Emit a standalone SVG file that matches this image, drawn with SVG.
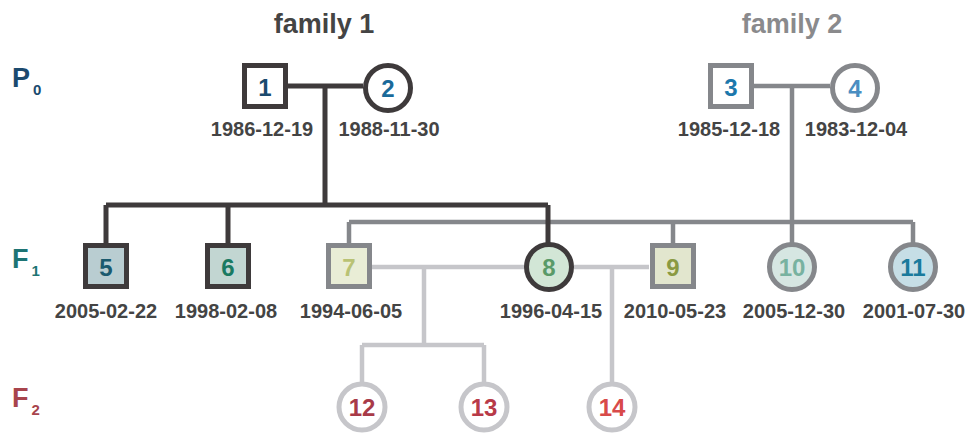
<svg xmlns="http://www.w3.org/2000/svg" width="969" height="434" viewBox="0 0 969 434">
<style>
text{font-family:"Liberation Sans",Arial,sans-serif;font-weight:bold}
.date{font-size:20px;fill:#444;text-anchor:middle}
.num{font-size:24px;text-anchor:middle;dominant-baseline:central}
.f1{stroke:#3e3a3b;stroke-width:5}
.f2{stroke:#85878b;stroke-width:5}
.f3{stroke:#c6c6ca;stroke-width:5}
.l1{fill:none;stroke:#3e3a3b;stroke-width:5}
.l2{fill:none;stroke:#85878b;stroke-width:4.5}
.l3{fill:none;stroke:#c6c6ca;stroke-width:4.5}
.gen{font-size:27px}
.sub{font-size:15px}
</style>
<rect width="969" height="434" fill="#fff"/>
<text x="324" y="33" class="gen" text-anchor="middle" fill="#444">family 1</text>
<text x="792" y="33" class="gen" text-anchor="middle" fill="#8a8a8c">family 2</text>
<g id="gen-labels">
<text x="12" y="87" class="gen" fill="#1b4a6e">P<tspan class="sub" dx="3" dy="8">0</tspan></text>
<text x="12" y="268" class="gen" fill="#1d7474">F<tspan class="sub" dx="3" dy="8">1</tspan></text>
<text x="12" y="407" class="gen" fill="#a8444c">F<tspan class="sub" dx="3" dy="8">2</tspan></text>
</g>
<g id="connectors">
<path class="l3" d="M372 267H525M424 267V345M362 345H484M362 345V383M484 345V383M574 267H649M612 267V383"/>
<path class="l2" d="M754 86H830M792 86V243M349 222H913M349 222V243M673 222V243M913 222V243"/>
<path class="l1" d="M287 86H363M325 86V205M106 205H548M106 205V243M228 205V243M548 205V243"/>
</g>
<g id="n1"><rect x="244.5" y="65.5" width="41" height="41" fill="#fff" class="f1"/><text x="265" y="87" class="num" fill="#1b4a6e">1</text><text x="262" y="136" class="date">1986-12-19</text></g>
<g id="n2"><circle cx="388" cy="88" r="22.5" fill="#fff" class="f1"/><text x="388" y="88" class="num" fill="#1a6a9a">2</text><text x="389" y="136" class="date">1988-11-30</text></g>
<g id="n3"><rect x="710.5" y="65.5" width="41" height="41" fill="#fff" class="f2"/><text x="731" y="87" class="num" fill="#1c78ac">3</text><text x="729" y="136" class="date">1985-12-18</text></g>
<g id="n4"><circle cx="855" cy="88" r="22.5" fill="#fff" class="f2"/><text x="855" y="88" class="num" fill="#4a8ec2">4</text><text x="856" y="136" class="date">1983-12-04</text></g>
<g id="n5"><rect x="85.5" y="245.5" width="41" height="41" fill="#b9cdd1" class="f1"/><text x="106" y="267" class="num" fill="#1b5a6e">5</text><text x="106" y="318" class="date">2005-02-22</text></g>
<g id="n6"><rect x="207.5" y="245.5" width="41" height="41" fill="#c2d6d2" class="f1"/><text x="228" y="267" class="num" fill="#1a7a62">6</text><text x="226" y="318" class="date">1998-02-08</text></g>
<g id="n7"><rect x="328.5" y="245.5" width="41" height="41" fill="#e9edd6" class="f2"/><text x="349" y="267" class="num" fill="#b9c274">7</text><text x="351" y="318" class="date">1994-06-05</text></g>
<g id="n8"><circle cx="549" cy="267" r="22.5" fill="#d2e6d6" class="f1"/><text x="549" y="267" class="num" fill="#5a9a68">8</text><text x="551" y="318" class="date">1996-04-15</text></g>
<g id="n9"><rect x="652.5" y="245.5" width="41" height="41" fill="#e2e6ce" class="f2"/><text x="673" y="267" class="num" fill="#8a9a42">9</text><text x="675" y="318" class="date">2010-05-23</text></g>
<g id="n10"><circle cx="792" cy="267" r="22.5" fill="#d6e6e2" class="f2"/><text x="792" y="267" class="num" fill="#78b2a0">10</text><text x="794" y="318" class="date">2005-12-30</text></g>
<g id="n11"><circle cx="913" cy="267" r="22.5" fill="#c6dee6" class="f2"/><text x="913" y="267" class="num" fill="#1a7a9c">11</text><text x="914" y="318" class="date">2001-07-30</text></g>
<g id="n12"><circle cx="362" cy="407" r="23" fill="#fff" class="f3"/><text x="362" y="407" class="num" fill="#a83a48">12</text></g>
<g id="n13"><circle cx="484" cy="407" r="23" fill="#fff" class="f3"/><text x="484" y="407" class="num" fill="#b83a48">13</text></g>
<g id="n14"><circle cx="612" cy="407" r="23" fill="#fff" class="f3"/><text x="612" y="407" class="num" fill="#d84a4a">14</text></g>
</svg>
